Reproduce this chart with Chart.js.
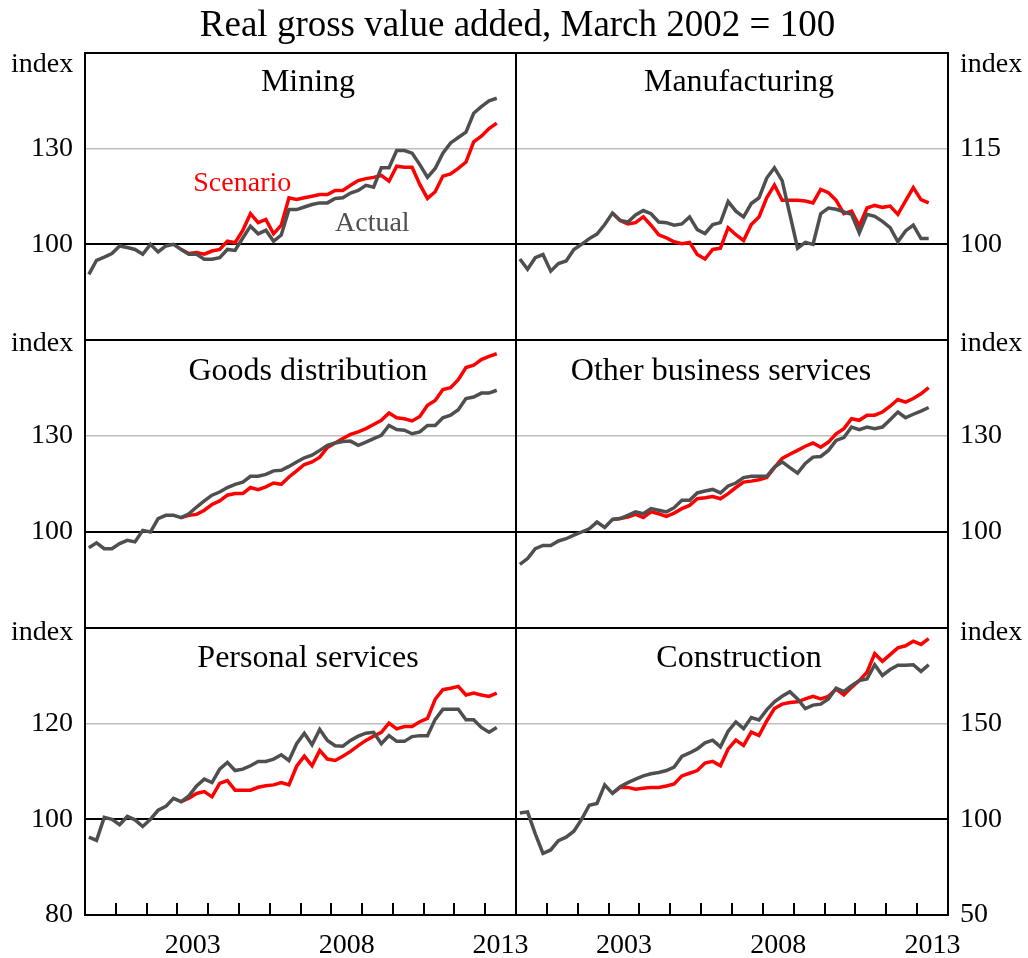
<!DOCTYPE html>
<html><head><meta charset="utf-8">
<script src="https://cdn.jsdelivr.net/npm/chart.js@4.4.1/dist/chart.umd.min.js"></script>
<style>
html,body{margin:0;padding:0;background:#fff;}
body{width:1028px;height:958px;position:relative;overflow:hidden;font-family:"Liberation Serif","Times New Roman",serif;color:#000;}
canvas{position:absolute;}
.t{position:absolute;white-space:nowrap;line-height:1;}
.ptitle{font-size:32px;transform:translateX(-50%);}
.idx{font-size:28px;}
</style></head><body>
<canvas id="c0" width="540" height="327" style="left:0px;top:33px"></canvas>
<canvas id="c1" width="528" height="327" style="left:500px;top:33px"></canvas>
<canvas id="c2" width="540" height="328" style="left:0px;top:320px"></canvas>
<canvas id="c3" width="528" height="328" style="left:500px;top:320px"></canvas>
<canvas id="c4" width="540" height="350" style="left:0px;top:608px"></canvas>
<canvas id="c5" width="528" height="350" style="left:500px;top:608px"></canvas>

<div class="t" style="left:517.5px;top:5px;font-size:37px;transform:translateX(-50%);">Real gross value added, March 2002 = 100</div>

<div class="t ptitle" style="left:308px;top:64px;">Mining</div>
<div class="t ptitle" style="left:739px;top:64px;">Manufacturing</div>
<div class="t ptitle" style="left:308px;top:353px;">Goods distribution</div>
<div class="t ptitle" style="left:721px;top:353px;">Other business services</div>
<div class="t ptitle" style="left:308px;top:640px;">Personal services</div>
<div class="t ptitle" style="left:739px;top:640px;">Construction</div>

<div class="t idx" style="right:954.7px;top:48.9px;">index</div>
<div class="t idx" style="right:954.7px;top:328.3px;">index</div>
<div class="t idx" style="right:954.7px;top:617.3px;">index</div>
<div class="t idx" style="left:960px;top:48.9px;">index</div>
<div class="t idx" style="left:960px;top:328.3px;">index</div>
<div class="t idx" style="left:960px;top:617.3px;">index</div>

<div class="t" style="left:193.3px;top:168.3px;font-size:28px;color:#ff0000;">Scenario</div>
<div class="t" style="left:335px;top:208.3px;font-size:28px;color:#4f4f4f;">Actual</div>

<script>
// ---------- data ----------
const quarters = [
 '2000Q1','2000Q2','2000Q3','2000Q4','2001Q1','2001Q2','2001Q3','2001Q4',
 '2002Q1','2002Q2','2002Q3','2002Q4','2003Q1','2003Q2','2003Q3','2003Q4',
 '2004Q1','2004Q2','2004Q3','2004Q4','2005Q1','2005Q2','2005Q3','2005Q4',
 '2006Q1','2006Q2','2006Q3','2006Q4','2007Q1','2007Q2','2007Q3','2007Q4',
 '2008Q1','2008Q2','2008Q3','2008Q4','2009Q1','2009Q2','2009Q3','2009Q4',
 '2010Q1','2010Q2','2010Q3','2010Q4','2011Q1','2011Q2','2011Q3','2011Q4',
 '2012Q1','2012Q2','2012Q3','2012Q4','2013Q1','2013Q2'];
const scenarioStart = '2003Q1';
const yearTicks = [2000,2001,2002,2003,2004,2005,2006,2007,2008,2009,2010,2011,2012,2013,2014];
const yearLabels = [2003,2008,2013];

const miningTicks = [70,100,130,160];
const manufTicks = [85,100,115,130];
const goodsTicks = [70,100,130,160];
const otherTicks = [70,100,130,160];
const personalTicks = [80,100,120,140];
const constrTicks = [50,100,150,200];

const miningActual = [90.6,95,96,97.1,99.5,99,98.4,96.9,100,97.6,99.5,100,98.4,96.9,96.9,95.3,95.3,95.8,98.4,98.1,102,105.7,103.3,104.4,101,102.9,110.9,110.9,111.7,112.5,113,113,114.4,114.6,116.1,116.9,118.5,117.9,124,124,129.4,129.4,128.6,125,121,123.8,128.6,131.8,133.5,135.2,141.1,143.2,145,145.8];
const miningScenario = [98.4,97.1,97.4,96.9,97.9,98.4,101,100.5,104.4,109.6,106.8,107.8,103.3,106,114.6,114.1,114.6,115.1,115.6,115.6,116.9,116.9,118.5,120,120.6,121,121.6,119.8,124.5,124.2,124.2,118.8,114.4,116.5,121.4,122.1,123.8,125.8,132.1,133.9,136.3,138];

const manufActual = [97.7,96.1,97.9,98.4,95.8,97,97.4,99.2,100,100.9,101.6,103.1,104.9,103.75,103.5,104.6,105.3,104.8,103.5,103.4,103,103.2,104.3,102.3,101.7,103.1,103.4,106.7,105.2,104.3,106.4,107.3,110.4,112,110,104.7,99.4,100.3,100,104.8,105.7,105.5,105.1,104.7,101.8,104.7,104.4,103.6,102.6,100.4,102.1,103,100.9,100.9];
const manufScenario = [104.9,103.75,103.2,103.4,104.3,103,101.5,101,100.4,100.1,100.3,98.4,97.7,99.2,99.4,102.6,101.5,100.6,103.1,104.3,107.3,109.3,106.9,106.9,106.9,106.8,106.5,108.6,108.1,106.9,104.8,105.2,102.9,105.7,106.1,105.8,106,104.7,106.8,108.9,107,106.5];

const goodsActual = [95.1,96.6,94.8,94.8,96.4,97.4,96.9,100.5,100,104.2,105.2,105.2,104.5,105.7,107.8,109.7,111.5,112.5,113.9,114.9,115.6,117.4,117.4,118,119.1,119.3,120.5,121.9,123.2,124,125.5,127.1,127.8,128.3,128.4,127.1,128.1,129.2,130.2,133.3,132,131.8,130.7,131.3,133.3,133.3,135.7,136.5,138.2,141.7,142.2,143.4,143.4,144.3];
const goodsScenario = [104.5,105.2,105.5,106.8,108.6,109.7,111.5,112,112,113.9,113.2,114.1,115.3,114.9,117.2,119.1,121.1,121.9,123.4,126.4,127.8,129.2,130.5,131.3,132.3,133.6,134.9,137.2,135.7,135.4,134.7,136.1,139.6,141.1,144.5,145.1,147.6,151.4,152.1,153.9,154.9,155.7];

const otherActual = [89.9,91.7,94.8,95.8,95.8,97.2,97.9,99,100,101,103.1,101.4,103.9,104.2,105.2,106.3,105.7,107.3,106.8,106.3,107.6,109.9,109.9,112.2,112.8,113.3,112.2,114.4,115.3,117,117.4,117.4,117.4,120.3,121.9,120.1,118.4,121.4,123.4,123.6,125.5,128.6,129.5,132.8,132,132.8,132.3,132.8,135.1,137.5,135.7,136.8,137.8,138.9];
const otherScenario = [103.9,104.2,104.7,105.5,104.5,106.3,105.7,104.9,105.9,107.3,108.3,110.4,110.7,111.1,110.4,112,113.9,115.6,115.9,116.3,117,120.1,123,124.3,125.5,126.8,127.8,126.5,128.1,130.7,132.3,135.4,134.9,136.5,136.5,137.5,139.3,141.4,140.6,141.7,143.2,145.1];

const personalActual = [96.3,95.6,100.4,100,98.9,100.6,99.9,98.5,100,101.9,102.7,104.4,103.7,104.9,107,108.4,107.7,110.5,111.9,110.2,110.5,111.2,112.1,112.1,112.6,113.5,112.3,115.8,118,115.6,118.8,116.5,115.4,115.3,116.5,117.4,118,118.2,115.8,117.5,116.3,116.3,117.3,117.5,117.5,120.9,123,123,123,120.8,120.8,119.2,118.2,119.2];
const personalScenario = [103.7,104.4,105.4,105.8,104.7,107.5,108.1,106.1,106.1,106.1,106.7,107,107.2,107.7,107.2,111.1,113.2,111.2,114.4,112.6,112.3,113.2,114.2,115.4,116.5,117.4,118.2,120.1,118.9,119.4,119.4,120.4,121.1,125.1,127.1,127.4,127.8,126,126.4,126,125.7,126.4];

const constrActual = [103.3,103.9,92.4,82.2,84,88.9,90.7,93.8,100,107.4,108.3,118,113.6,117.1,119.2,121,122.7,123.8,124.5,125.5,127.3,132.9,134.7,136.8,140,141.4,137.9,146.1,150.9,147.4,153.2,151.9,157.2,161.4,164.3,166.7,162.9,157.9,159.7,160.2,162.9,168.5,166.7,169.9,172.5,173.4,180.8,175.2,178.3,180.5,180.5,180.8,177.3,180.8];
const constrScenario = [113.6,116.7,116.7,115.7,116.2,116.7,116.7,117.4,118.5,122.7,124.1,125.5,129.4,130.3,128,136.8,141.4,138.6,145.6,143.8,151.4,157.9,160.2,161.1,161.4,162.9,164.3,162.9,164.3,168.1,165,169,172.5,176.9,186.6,182.6,186.1,189.6,190.7,193.1,191.4,194.5];

// ---------- drawing ----------
const ACTUAL_COLOR = '#4f4f4f';
const SCEN_COLOR = '#ff0000';
const FONT = {family:'"Liberation Serif","Times New Roman",serif', size:28};

function qx(q){ return +q.slice(0,4) + (+q.slice(5) - 0.5) / 4; }

const framePlugin = {
  id:'frame',
  afterDatasetsDraw(chart, args, opts){
    const {ctx, chartArea:a} = chart;
    ctx.save();
    ctx.strokeStyle = '#000';
    ctx.lineWidth = 2;
    ctx.strokeRect(a.left, a.top, a.right - a.left, a.bottom - a.top);
    if (opts.innerTicks) {
      const xs = chart.scales.x;
      ctx.beginPath();
      yearTicks.slice(1, -1).forEach(v => {
        const px = Math.round(xs.getPixelForValue(v));
        ctx.moveTo(px, a.bottom);
        ctx.lineTo(px, a.bottom - 12);
      });
      ctx.stroke();
    }
    ctx.restore();
  }
};

function noPad(a){ a.paddingTop = 0; a.paddingBottom = 0; a.paddingLeft = 0; a.paddingRight = 0; }

function panel(id, col, row, yTicks, actual, scenario){
  const s0 = quarters.indexOf(scenarioStart);
  const bottom = row === 2;
  const yMin = yTicks[0], yMax = yTicks[yTicks.length - 1];
  new Chart(document.getElementById(id), {
    type:'line',
    data:{
      datasets:[
        {data: actual.map((v,i)=>({x: qx(quarters[i]), y: v})), borderColor: ACTUAL_COLOR, borderWidth:3.5, pointRadius:0, fill:false, tension:0},
        {data: scenario.map((v,i)=>({x: qx(quarters[s0 + i]), y: v})), borderColor: SCEN_COLOR, borderWidth:3.5, pointRadius:0, fill:false, tension:0}
      ]
    },
    options:{
      responsive:false, animation:false, events:[], devicePixelRatio:1,
      layout:{padding:{left: col ? 16 : 0, right: col ? 0 : 24, top:20, bottom: bottom ? 0 : 20}},
      plugins:{legend:{display:false}, tooltip:{enabled:false}, frame:{innerTicks: bottom}},
      scales:{
        x:{
          type:'linear', min:yearTicks[0], max:yearTicks[yearTicks.length-1], display: bottom,
          afterBuildTicks: a => { a.ticks = yearTicks.map(v => ({value:v})); },
          afterFit: a => { noPad(a); a.height = bottom ? 43 : 0; },
          grid:{display:false, drawTicks:false},
          border:{display:false},
          ticks:{autoSkip:false, maxRotation:0, minRotation:0, padding:14, labelOffset:15.4, font:FONT, color:'#000',
                 callback: v => yearLabels.includes(v) ? String(v) : ''}
        },
        y:{
          type:'linear', position: col ? 'right' : 'left', min:yMin, max:yMax,
          afterBuildTicks: a => { a.ticks = yTicks.map(v => ({value:v})); },
          afterFit: a => { noPad(a); a.width = col ? 80 : 85; },
          border:{display:false},
          grid:{drawTicks:false,
                color: c => c.tick.value === 100 ? '#000' : ((c.tick.value === yMin || c.tick.value === yMax) ? 'rgba(0,0,0,0)' : '#bdbdbd'),
                lineWidth: c => c.tick.value === 100 ? 2 : 1.5},
          ticks:{padding:12, font:FONT, color:'#000',
                 callback: v => (v === yMax) ? '' : (v === yMin ? (bottom ? String(v) : '') : String(v))}
        }
      }
    },
    plugins:[framePlugin]
  });
}

panel('c0', 0, 0, miningTicks, miningActual, miningScenario);
panel('c1', 1, 0, manufTicks, manufActual, manufScenario);
panel('c2', 0, 1, goodsTicks, goodsActual, goodsScenario);
panel('c3', 1, 1, otherTicks, otherActual, otherScenario);
panel('c4', 0, 2, personalTicks, personalActual, personalScenario);
panel('c5', 1, 2, constrTicks, constrActual, constrScenario);
</script>
</body></html>
